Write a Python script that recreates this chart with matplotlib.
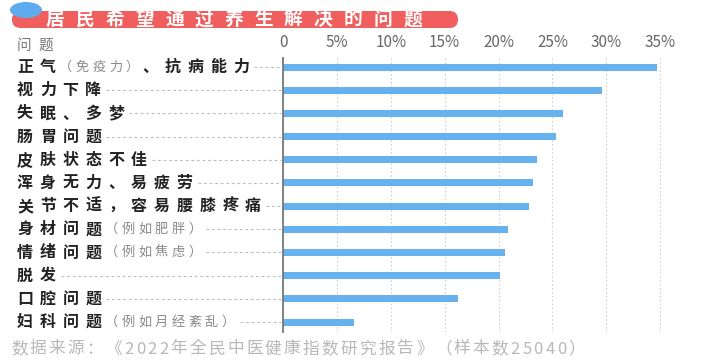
import re
import numpy as np
import matplotlib.pyplot as plt
from matplotlib.patches import FancyBboxPatch, Ellipse
from matplotlib.lines import Line2D
from matplotlib.transforms import IdentityTransform

plt.rcParams['font.family'] = ['Noto Sans CJK SC', 'DejaVu Sans']

title = '居民希望通过养生解决的问题'
header = '问题'
issues = ['正气（免疫力）、抗病能力', '视力下降', '失眠、多梦', '肠胃问题', '皮肤状态不佳',
          '浑身无力、易疲劳', '关节不适，容易腰膝疼痛', '身材问题（例如肥胖）',
          '情绪问题（例如焦虑）', '脱发', '口腔问题', '妇科问题（例如月经紊乱）']
shares = [34.7, 29.6, 26.0, 25.3, 23.6, 23.2, 22.8, 20.9, 20.6, 20.1, 16.2, 6.6]
ticks = [0, 5, 10, 15, 20, 25, 30, 35]
tick_labels = ['0', '5%', '10%', '15%', '20%', '25%', '30%', '35%']
source = '数据来源：《2022年全民中医健康指数研究报告》（样本数25040）'

W, H = 702, 362
fig = plt.figure(figsize=(W / 100, H / 100), dpi=100)
px = IdentityTransform()

ax = fig.add_axes([283 / W, 30 / H, (671 - 283) / W, 274 / H])
y = np.arange(len(issues))
ax.barh(y, shares, height=0.3, color='#66b2ee', zorder=3)
ax.set_xlim(0, 36)
ax.set_ylim(11.43, -0.39)
ax.set_xticks(ticks)
ax.set_xticklabels(tick_labels)
ax.xaxis.tick_top()
ax.tick_params(axis='x', length=0, pad=5, labelsize=11, labelcolor='#666666')
ax.set_yticks([])
for s in ['top', 'right', 'bottom']:
    ax.spines[s].set_visible(False)
ax.spines['left'].set_color('#777777')
ax.spines['left'].set_linewidth(1.3)
ax.spines['left'].set_zorder(4)
ax.grid(axis='x', linestyle=(0, (1.5, 2)), color='#d0d0d0', lw=0.8)
ax.set_axisbelow(True)

r = fig.canvas.get_renderer()


def put(x, yd, s, size, color, weight='normal', gap=0.0, end=None):
    # draw string char by char to get the wide letter spacing of the original
    ts = [fig.text(0, 0, ch, transform=px, fontsize=size, color=color,
                   weight=weight, ha='left', va='center') for ch in s]
    ws = [t.get_window_extent(r).width for t in ts]
    if end is not None and len(s) > 1:
        gap = (end - x - sum(ws)) / (len(s) - 1)
    for t, w in zip(ts, ws):
        t.set_position((x, yd))
        x += w + gap
    return x - gap


# title banner
fig.add_artist(FancyBboxPatch((12, H - 28), 446, 17, boxstyle='round,pad=0,rounding_size=8.5',
                              transform=px, fc='#f15e5e', ec='none'))
fig.add_artist(Ellipse((26, H - 10), 32, 16, transform=px, fc='#5eabee', ec='none'))
put(46, H - 19.5, title, 13.5, 'white', 'bold', end=422)

put(17, H - 46, header, 10.5, '#777777', gap=7)

for i, lab in enumerate(issues):
    yd = ax.transData.transform((0, i))[1]
    x = 17
    for part in re.split(r'(（[^）]*）)', lab):
        if not part:
            continue
        if part.startswith('（'):
            x = put(x, yd, part, 9.5, '#8a8a8a', gap=3.5) + 3
        else:
            x = put(x, yd, part, 11.5, '#222222', 'bold', gap=6.8) + 3
    fig.add_artist(Line2D([x + 2, 281], [yd, yd], transform=px, color='#bdbdbd', lw=0.8,
                          linestyle=(0, (2.5, 2.5))))

put(11, H - 349, source, 12, '#b8b8b8', 'light', end=585)

fig.savefig('out.png', dpi=100)
